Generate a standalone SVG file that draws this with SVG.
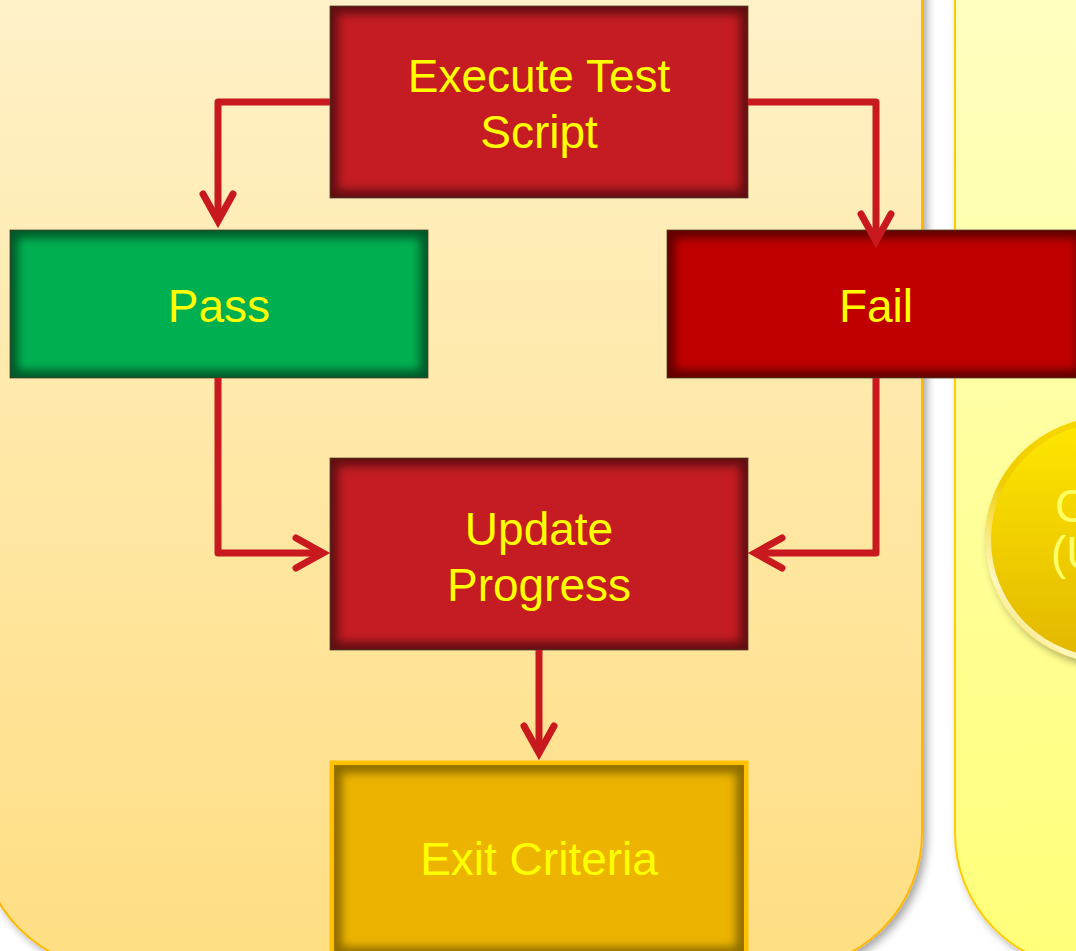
<svg xmlns="http://www.w3.org/2000/svg" width="1076" height="951" viewBox="0 0 1076 951">
<defs>
<style>
.lbl{font-family:"Liberation Sans",Arial,sans-serif;font-size:46px;fill:#FFFF00;text-anchor:middle}
.box{stroke:#7A6A48;stroke-width:1}
.glow{fill:none;stroke:#000;stroke-opacity:0.5;stroke-width:16}
.con{fill:none;stroke:#C8191E;stroke-width:7;stroke-linejoin:round;marker-end:url(#ah)}
.ctext{font-family:"Liberation Sans",Arial,sans-serif;font-size:46px;fill:#FFFF66}
</style>
<linearGradient id="gL" x1="0" y1="0" x2="0" y2="1">
<stop offset="0" stop-color="#FFF4D2"/><stop offset="1" stop-color="#FFDE82"/>
</linearGradient>
<linearGradient id="gR" x1="0" y1="0" x2="0" y2="1">
<stop offset="0" stop-color="#FFFFCC"/><stop offset="1" stop-color="#FFFF78"/>
</linearGradient>
<linearGradient id="gC" x1="0" y1="0" x2="0" y2="1">
<stop offset="0" stop-color="#FFE800"/><stop offset="1" stop-color="#E2B600"/>
</linearGradient>
<linearGradient id="gRim" x1="1" y1="0" x2="0" y2="1">
<stop offset="0" stop-color="#FFE400"/><stop offset="0.6" stop-color="#F0CC00"/><stop offset="0.82" stop-color="#FFF8C0"/><stop offset="1" stop-color="#E8C000"/>
</linearGradient>
<filter id="sh" x="-10%" y="-10%" width="120%" height="120%">
<feDropShadow dx="4" dy="4" stdDeviation="4" flood-color="#000" flood-opacity="0.35"/>
</filter>
<filter id="bl" x="-20%" y="-20%" width="140%" height="140%">
<feGaussianBlur stdDeviation="5"/>
</filter>
<clipPath id="cExec"><rect x="330" y="6" width="418" height="192"/></clipPath>
<clipPath id="cPass"><rect x="10" y="230" width="418" height="148"/></clipPath>
<clipPath id="cFail"><rect x="667" y="230" width="418" height="148"/></clipPath>
<clipPath id="cUpd"><rect x="330" y="458" width="418" height="192"/></clipPath>
<clipPath id="cExit"><rect x="334" y="765" width="410" height="190"/></clipPath>
<marker id="ah" markerUnits="userSpaceOnUse" markerWidth="60" markerHeight="60" viewBox="-40 -30 60 60" refX="0" refY="0" orient="auto" overflow="visible">
<path d="M-27,-15 L0,0 L-27,15" fill="none" stroke="#C8191E" stroke-width="7" stroke-linecap="round" stroke-linejoin="miter"/>
</marker>
</defs>
<rect x="0" y="0" width="1076" height="951" fill="#FFFFFF"/>
<g id="panel-left">
<rect x="-20" y="-150" width="942" height="1119" rx="136" ry="136" fill="url(#gL)" stroke="#FFB800" stroke-width="2" filter="url(#sh)"/>
</g>
<g id="panel-right">
<rect x="955" y="-150" width="400" height="1119" rx="136" ry="136" fill="url(#gR)" stroke="#FFCC00" stroke-width="2" filter="url(#sh)"/>
</g>
<g id="circle-node">
<circle cx="1108" cy="540" r="123" fill="url(#gC)" filter="url(#sh)"/>
<circle cx="1108" cy="540" r="120" fill="none" stroke="url(#gRim)" stroke-width="6"/>
<text class="ctext" x="1055" y="522">C</text>
<text class="ctext" x="1051" y="569">(U</text>
</g>
<g id="node-execute">
<rect class="box" x="330" y="6" width="418" height="192" fill="#C41C22"/>
<g clip-path="url(#cExec)"><rect class="glow" x="330" y="6" width="418" height="192" filter="url(#bl)"/></g>
<text class="lbl" x="539" y="92">Execute Test</text>
<text class="lbl" x="539" y="148">Script</text>
</g>
<g id="node-pass">
<rect class="box" x="10" y="230" width="418" height="148" fill="#00B050"/>
<g clip-path="url(#cPass)"><rect class="glow" x="10" y="230" width="418" height="148" filter="url(#bl)"/></g>
<text class="lbl" x="219" y="322">Pass</text>
</g>
<g id="node-fail">
<rect class="box" x="667" y="230" width="418" height="148" fill="#C00000"/>
<g clip-path="url(#cFail)"><rect class="glow" x="667" y="230" width="418" height="148" filter="url(#bl)"/></g>
<text class="lbl" x="876" y="322">Fail</text>
</g>
<g id="node-update">
<rect class="box" x="330" y="458" width="418" height="192" fill="#C41C22"/>
<g clip-path="url(#cUpd)"><rect class="glow" x="330" y="458" width="418" height="192" filter="url(#bl)"/></g>
<text class="lbl" x="539" y="545">Update</text>
<text class="lbl" x="539" y="601">Progress</text>
</g>
<g id="node-exit">
<rect x="332" y="763" width="414" height="192" fill="#ECB400" stroke="#FFC000" stroke-width="5"/>
<g clip-path="url(#cExit)"><rect class="glow" x="334" y="765" width="410" height="190" filter="url(#bl)" style="stroke-opacity:0.4"/></g>
<text class="lbl" x="539" y="875">Exit Criteria</text>
</g>
<g id="connectors">
<polyline class="con" points="330,102 218,102 218,221"/>
<polyline class="con" points="748,102 876,102 876,241"/>
<polyline class="con" points="218,378 218,553 323,553"/>
<polyline class="con" points="876,378 876,553 755,553"/>
<polyline class="con" points="539,650 539,753"/>
</g>
</svg>
